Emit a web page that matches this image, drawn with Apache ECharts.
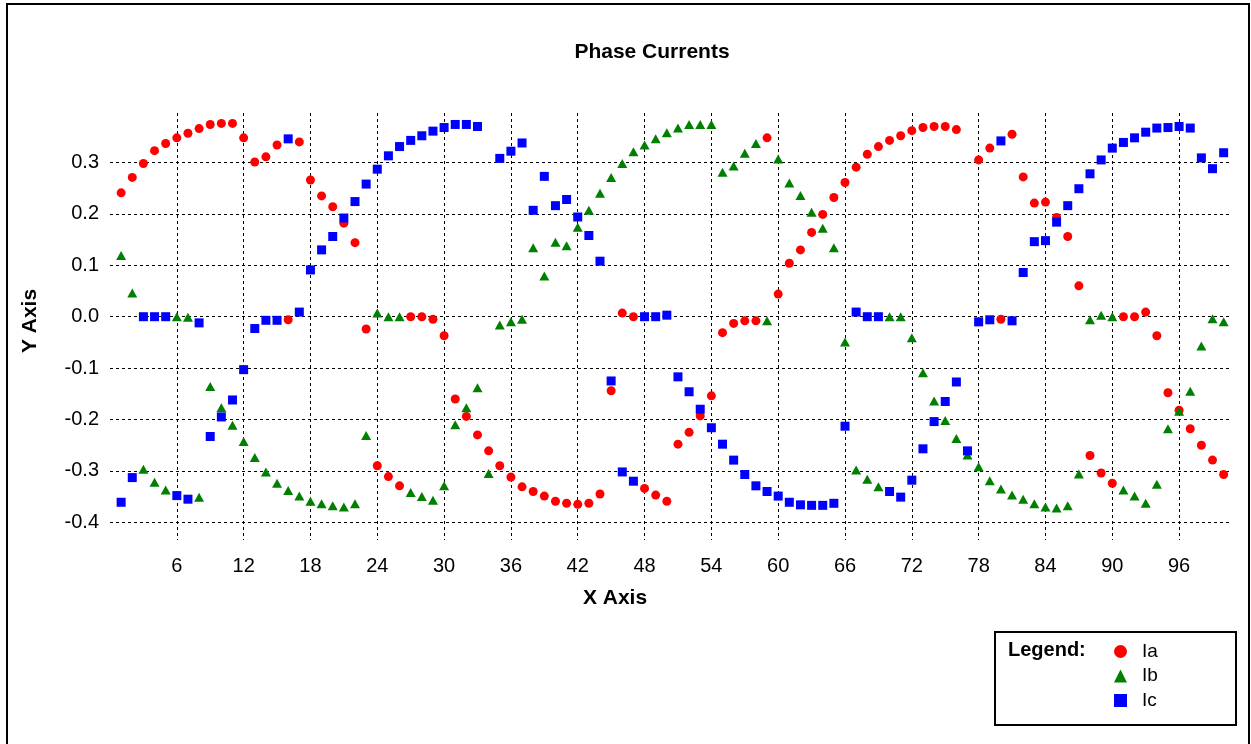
<!DOCTYPE html>
<html>
<head>
<meta charset="utf-8">
<script src="https://cdn.jsdelivr.net/npm/echarts@6/dist/echarts.min.js"></script>
<style>html,body{margin:0;padding:0;background:#fff;}#c{width:1251px;height:744px;}</style>
</head>
<body>
<div id="c"></div>
<script>
const titleText = 'Phase Currents';
const xName = 'X Axis';
const yName = 'Y Axis';
const seriesNames = ['Ia', 'Ib', 'Ic'];
const xStart = 1;
const Ia = [0.241,0.271,0.298,0.323,0.337,0.348,0.357,0.366,0.374,0.376,
0.376,0.348,0.301,0.311,0.334,-0.006,0.340,0.266,0.235,0.214,
0.182,0.144,-0.024,-0.290,-0.311,-0.329,0.0,0.0,-0.005,-0.037,
-0.160,-0.194,-0.230,-0.261,-0.290,-0.312,-0.331,-0.340,-0.349,-0.359,
-0.363,-0.365,-0.363,-0.345,-0.144,0.007,0.0,-0.334,-0.347,-0.359,
-0.248,-0.225,-0.193,-0.154,-0.031,-0.013,-0.008,-0.008,0.348,0.044,
0.104,0.130,0.164,0.199,0.232,0.261,0.291,0.316,0.331,0.343,
0.352,0.362,0.368,0.370,0.370,0.364,-0.262,0.305,0.328,-0.005,
0.355,0.272,0.221,0.223,0.193,0.156,0.060,-0.270,-0.304,-0.324,
0.0,0.0,0.009,-0.037,-0.148,-0.182,-0.218,-0.250,-0.279,-0.307];
const Ib = [0.119,0.046,-0.297,-0.322,-0.337,0.0,-0.001,-0.351,-0.136,-0.177,
-0.211,-0.243,-0.274,-0.302,-0.324,-0.338,-0.349,-0.359,-0.364,-0.368,
-0.370,-0.364,-0.231,0.007,0.0,0.0,-0.342,-0.350,-0.357,-0.329,
-0.210,-0.177,-0.138,-0.305,-0.016,-0.010,-0.005,0.134,0.079,0.145,
0.138,0.174,0.207,0.240,0.271,0.298,0.321,0.334,0.346,0.358,
0.367,0.374,0.374,0.374,0.281,0.293,0.318,0.337,-0.008,0.307,
0.260,0.236,0.203,0.172,0.134,-0.049,-0.298,-0.316,-0.331,0.0,
0.0,-0.041,-0.109,-0.164,-0.202,-0.237,-0.269,-0.292,-0.319,-0.335,
-0.347,-0.355,-0.364,-0.370,-0.372,-0.368,-0.306,-0.006,0.003,0.0,
-0.337,-0.349,-0.363,-0.326,-0.218,-0.184,-0.145,-0.057,-0.004,-0.010];
const Ic = [-0.361,-0.313,0.0,0.0,0.0,-0.348,-0.355,-0.012,-0.233,-0.195,
-0.162,-0.103,-0.023,-0.007,-0.007,0.346,0.009,0.091,0.130,0.156,
0.192,0.224,0.258,0.287,0.313,0.331,0.343,0.352,0.361,0.368,
0.374,0.374,0.370,null,0.308,0.322,0.338,0.207,0.273,0.216,
0.228,0.194,0.158,0.108,-0.125,-0.302,-0.320,0.0,0.0,0.003,
-0.117,-0.146,-0.180,-0.216,-0.248,-0.279,-0.307,-0.329,-0.340,-0.349,
-0.361,-0.366,-0.367,-0.367,-0.363,-0.213,0.009,0.0,0.0,-0.340,
-0.351,-0.318,-0.257,-0.204,-0.165,-0.127,-0.261,-0.010,-0.006,0.342,
-0.008,0.086,0.146,0.148,0.184,0.216,0.249,0.278,0.305,0.328,
0.339,0.348,0.359,0.367,0.368,0.370,0.367,0.309,0.288,0.319];
const yTickMin = -0.4;
const yTickMax = 0.3;
const yTickStep = 0.1;
const xTickStep = 6;

const FONT = 'Liberation Sans, Arial, sans-serif';
const X_MIN = 0, X_MAX = 100.75;
const Y_MIN = -0.4344, Y_MAX = 0.3963;
const G = {left: 110, top: 113, width: 1122, height: 427};
function yToPx(v) { return G.top + (Y_MAX - v) / (Y_MAX - Y_MIN) * G.height; }
const tickTop = yToPx(yTickMax), tickBottom = yToPx(yTickMin);

function toPoints(arr) {
  const out = [];
  arr.forEach((v, i) => { if (v !== null) out.push([xStart + i, v]); });
  return out;
}

const gridLine = {show: true, lineStyle: {color: '#000', width: 1, type: [3, 3]}};

const chart = echarts.init(document.getElementById('c'), null, {renderer: 'canvas'});
chart.setOption({
  backgroundColor: '#fff',
  animation: false,
  title: {
    text: titleText, left: 647, top: 37, textAlign: 'center',
    textStyle: {fontFamily: FONT, fontSize: 21, fontWeight: 'bold', color: '#000'}
  },
  grid: [
    {left: G.left, top: G.top, width: G.width, height: G.height},
    {left: G.left, top: tickTop, width: G.width, height: tickBottom - tickTop}
  ],
  xAxis: [
    {
      type: 'value', gridIndex: 0, min: X_MIN, max: X_MAX, interval: xTickStep,
      axisLine: {show: false}, axisTick: {show: false},
      splitLine: Object.assign({showMinLine: false, showMaxLine: false}, gridLine),
      axisLabel: {showMinLabel: false, showMaxLabel: false, margin: 16,
        fontFamily: FONT, fontSize: 20, color: '#000'}
    },
    {type: 'value', gridIndex: 1, min: X_MIN, max: X_MAX, show: false}
  ],
  yAxis: [
    {type: 'value', gridIndex: 0, min: Y_MIN, max: Y_MAX, show: false, splitLine: {show: false}},
    {
      type: 'value', gridIndex: 1, min: yTickMin, max: yTickMax, interval: yTickStep,
      axisLine: {show: false}, axisTick: {show: false},
      splitLine: gridLine,
      axisLabel: {margin: 11, fontFamily: FONT, fontSize: 20, color: '#000',
        formatter: v => v.toFixed(1)}
    }
  ],
  legend: {
    left: 1109, top: 637, orient: 'vertical', itemWidth: 13, itemHeight: 13, itemGap: 5.5,
    data: [{name: seriesNames[0], icon: 'circle'}, {name: seriesNames[1], icon: 'triangle'}, {name: seriesNames[2], icon: 'rect'}],
    textStyle: {fontFamily: FONT, fontSize: 19, color: '#000', padding: [0, 0, 0, 10]},
    selectedMode: false
  },
  series: [
    {name: seriesNames[0], type: 'scatter', xAxisIndex: 0, yAxisIndex: 0, symbol: 'circle', symbolSize: 9,
      itemStyle: {color: '#ff0000', opacity: 1}, data: toPoints(Ia)},
    {name: seriesNames[1], type: 'scatter', xAxisIndex: 0, yAxisIndex: 0, symbol: 'triangle', symbolSize: [10, 9],
      itemStyle: {color: '#008000', opacity: 1}, data: toPoints(Ib)},
    {name: seriesNames[2], type: 'scatter', xAxisIndex: 0, yAxisIndex: 0, symbol: 'rect', symbolSize: 9,
      itemStyle: {color: '#0000ff', opacity: 1}, data: toPoints(Ic)}
  ],
  graphic: [
    {type: 'rect', silent: true, shape: {x: 7, y: 4, width: 1242, height: 760},
      style: {fill: null, stroke: '#000', lineWidth: 2}},
    {type: 'rect', silent: true, shape: {x: 995, y: 632, width: 241, height: 93},
      style: {fill: null, stroke: '#000', lineWidth: 2}},
    {type: 'text', silent: true, x: 1008, y: 650,
      style: {text: 'Legend:', fill: '#000', font: 'bold 20px ' + FONT, textVerticalAlign: 'middle'}},
    {type: 'text', silent: true, x: 615, y: 598,
      style: {text: xName, fill: '#000', font: 'bold 21px ' + FONT, textAlign: 'center', textVerticalAlign: 'middle'}},
    {type: 'text', silent: true, x: 30, y: 321, rotation: Math.PI / 2,
      style: {text: yName, fill: '#000', font: 'bold 21px ' + FONT, textAlign: 'center', textVerticalAlign: 'middle'}}
  ]
});
</script>
</body>
</html>
